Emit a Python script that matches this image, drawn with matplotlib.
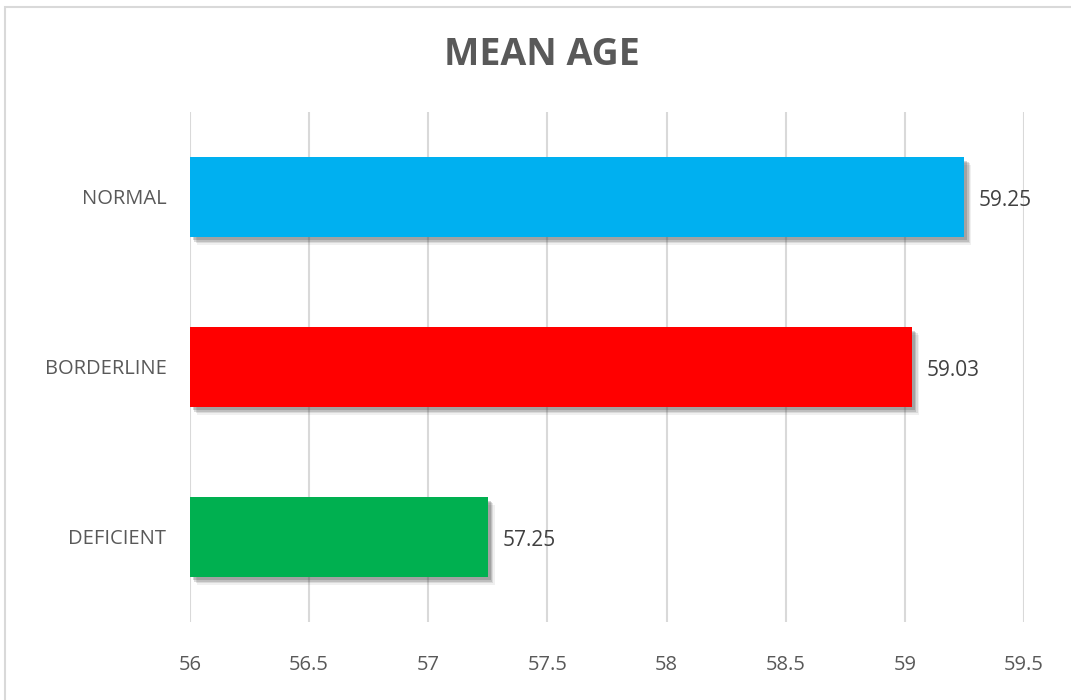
import matplotlib.pyplot as plt
import matplotlib.patheffects as pe
from matplotlib.patches import Rectangle
import numpy as np

# ---------------- data ----------------
groups = ['DEFICIENT', 'BORDERLINE', 'NORMAL']
mean_age = [57.25, 59.03, 59.25]
bar_colors = ['#00B050', '#FF0000', '#00B0F0']
xticks = [56, 56.5, 57, 57.5, 58, 58.5, 59, 59.5]

plt.rcParams['font.family'] = ['Open Sans', 'DejaVu Sans']

fig = plt.figure(figsize=(10.71, 7), dpi=100)
ax = fig.add_axes([190/1071, 1 - 622/700, (1024 - 190)/1071, (622 - 112)/700])

# chart frame (cut at right/bottom like the reference)
fig.patches.append(Rectangle((5/1071, -0.05), 1.2, 1 - 7/700 + 0.05,
                             transform=fig.transFigure, fill=False,
                             edgecolor='#d9d9d9', linewidth=1.5))

ypos = np.arange(len(groups))
left = xticks[0]
bars = ax.barh(ypos, [v - left for v in mean_age], left=left, height=0.47,
               color=bar_colors, zorder=3)
# soft shadow: a few stacked faint offsets
shadow = [pe.SimplePatchShadow(offset=(o, -o - 0.5), shadow_rgbFace='#404040', alpha=a)
          for o, a in [(5, 0.08), (4, 0.12), (3, 0.18), (2, 0.22)]]
for b in bars:
    b.set_path_effects(shadow + [pe.Normal()])

for y, v in zip(ypos, mean_age):
    ax.text(v + 0.06, y - 0.02, '%.2f' % v, va='center', ha='left',
            fontsize=15, color='#404040')

ax.set_xlim(56, 59.5)
ax.set_ylim(-0.5, 2.5)
ax.set_xticks(xticks)
ax.set_xticklabels(['%g' % t for t in xticks])
ax.set_yticks(ypos)
ax.set_yticklabels(groups)
ax.grid(axis='x', color='#d9d9d9', linewidth=1.5, zorder=0)
ax.set_axisbelow(True)
for s in ax.spines.values():
    s.set_visible(False)
ax.tick_params(axis='x', length=0, pad=24, labelsize=14.5, labelcolor='#595959')
ax.tick_params(axis='y', length=0, pad=17, labelsize=14.5, labelcolor='#595959')

fig.text(542/1071, 1 - 55/700, 'MEAN AGE', ha='center', va='center',
         fontsize=27, fontweight='bold', color='#595959')

fig.savefig('out.png', dpi=100)
